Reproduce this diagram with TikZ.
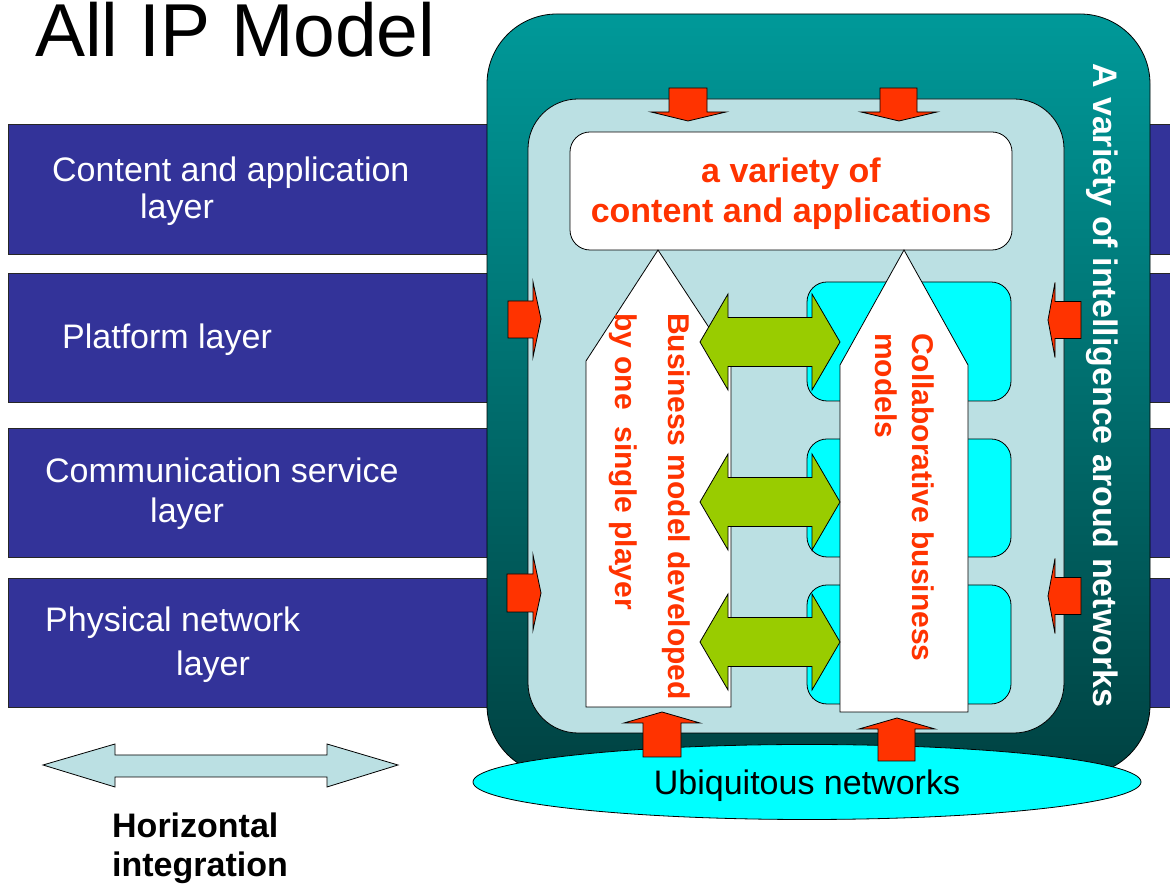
\documentclass[tikz,border=0pt]{standalone}
\usepackage{fontspec}
\setmainfont{Liberation Sans}
\definecolor{layerblue}{RGB}{51,51,153}
\definecolor{tealtop}{RGB}{0,153,153}
\definecolor{tealmid}{RGB}{0,118,118}
\definecolor{tealbot}{RGB}{0,66,66}
\definecolor{paleblue}{RGB}{187,224,227}
\definecolor{boxcyan}{RGB}{0,255,255}
\definecolor{arrowgreen}{RGB}{153,204,0}
\definecolor{arrowred}{RGB}{255,51,0}
\tikzset{
  edge/.style={draw=black, line width=0.8pt},
  layerbar/.style={fill=layerblue, draw=black!85, line width=0.8pt},
  redarrow/.style={edge, fill=arrowred},
  greenarrow/.style={edge, fill=arrowgreen},
  layertext/.style={text=white, inner sep=0pt, anchor=base west,
    font=\fontsize{34}{40}\selectfont},
  redbold/.style={text=arrowred, inner sep=0pt,
    font=\bfseries\fontsize{34}{40}\selectfont},
  redvert/.style={text=arrowred, inner sep=0pt, rotate=-90, anchor=base west,
    font=\bfseries\fontsize{30}{36}\selectfont},
}
\begin{document}
\begin{tikzpicture}[x=1pt,y=1pt]
\useasboundingbox (0,0) rectangle (1170,888);
\clip (0,0) rectangle (1170,888);

% layer bands running behind the central block
\draw[layerbar] (8,634) rectangle (1180,764);
\draw[layerbar] (8,486) rectangle (1180,615);
\draw[layerbar] (8,331) rectangle (1180,460);
\draw[layerbar] (8,181) rectangle (1180,310);

% outer teal block and inner pale block
\shade[top color=tealtop, middle color=tealmid, bottom color=tealbot,
  rounded corners=70pt] (487,113) rectangle (1150,874);
\draw[edge, rounded corners=70pt] (487,113) rectangle (1150,874);
\draw[edge, fill=paleblue, rounded corners=50pt] (528,155) rectangle (1064,789);

% arrows pointing down into the pale block
\draw[redarrow] (669,800) -- (707,800) -- (707,776) -- (726,776) -- (688,767)
  -- (651,776) -- (669,776) -- cycle;
\draw[redarrow] (880,800) -- (917,800) -- (917,776) -- (937,776) -- (899,767)
  -- (861,776) -- (880,776) -- cycle;

% content and applications box
\draw[edge, fill=white, rounded corners=20pt] (570,638) rectangle (1012,756);

% cyan partner boxes
\draw[edge, fill=boxcyan, rounded corners=20pt] (807,487) rectangle (1011,606);
\draw[edge, fill=boxcyan, rounded corners=20pt] (807,331) rectangle (1011,449);
\draw[edge, fill=boxcyan, rounded corners=20pt] (807,184) rectangle (1011,303);

% two upward block arrows
\draw[edge, fill=white] (586,181) -- (586,527) -- (658,638) -- (731,527)
  -- (731,181) -- cycle;
\draw[edge, fill=white] (840,176) -- (840,523) -- (904,638) -- (968,523)
  -- (968,176) -- cycle;

% green double arrows between the two models
\foreach \c in {546,386,246}{
  \draw[greenarrow] (700,\c) -- (728,\c+48) -- (728,\c+24.5) -- (812,\c+24.5)
    -- (812,\c+48) -- (840,\c) -- (812,\c-48) -- (812,\c-24.5)
    -- (728,\c-24.5) -- (728,\c-48) -- cycle;
}

% side arrows from the left
\draw[redarrow] (508,587) -- (533,587) -- (533,606) -- (541,569) -- (533,531)
  -- (533,550) -- (508,550) -- cycle;
\draw[redarrow] (507,314) -- (533,314) -- (533,333) -- (541,295) -- (533,258)
  -- (533,276) -- (507,276) -- cycle;
% side arrows from the right
\draw[redarrow] (1081,586.5) -- (1055,586.5) -- (1055,605.5) -- (1048,568)
  -- (1055,530.5) -- (1055,549.5) -- (1081,549.5) -- cycle;
\draw[redarrow] (1081,310.5) -- (1055,310.5) -- (1055,329.5) -- (1048,292)
  -- (1055,254.5) -- (1055,273.5) -- (1081,273.5) -- cycle;

% ubiquitous networks base
\draw[edge, fill=boxcyan] (807,106) ellipse [x radius=334, y radius=37.5];
\node[inner sep=0pt, anchor=base, font=\fontsize{34}{40}\selectfont]
  (ubi) at (807,93) {Ubiquitous networks};

% arrows rising from the base
\draw[redarrow] (643,131) -- (643,165) -- (624,165) -- (662,176) -- (700,165)
  -- (681,165) -- (681,131) -- cycle;
\draw[redarrow] (878,127) -- (878,159) -- (859,159) -- (897,170) -- (935,159)
  -- (915,159) -- (915,127) -- cycle;

% horizontal integration arrow
\draw[edge, fill=paleblue] (43,123) -- (115,144) -- (115,133) -- (327,133)
  -- (327,144) -- (398,123) -- (327,101) -- (327,111) -- (115,111)
  -- (115,101) -- cycle;

% titles and labels
\node[inner sep=0pt, anchor=base west, font=\fontsize{75}{80}\selectfont]
  (title) at (35,831) {All IP Model};

\node[layertext] (l1a) at (52,706) {Content and application};
\node[layertext] (l1b) at (140,669) {layer};
\node[layertext] (l2a) at (62,539) {Platform layer};
\node[layertext] (l3a) at (45,405) {Communication service};
\node[layertext] (l3b) at (150,365) {layer};
\node[layertext] (l4a) at (45,256) {Physical network};
\node[layertext] (l4b) at (176,212) {layer};

\node[redbold, anchor=base] (cap1) at (791,705) {a variety of};
\node[redbold, anchor=base] (cap2) at (791,665) {content and applications};

\node[redvert] (bm1) at (668,575) {Business model developed};
\node[redvert] (bm2) at (615,575) {by one\ \ single player};
\node[redvert] (cb1) at (912,555) {Collaborative business};
\node[redvert] (cb2) at (875,555) {models};

\node[text=white, inner sep=0pt, rotate=-90, anchor=base west,
  font=\bfseries\fontsize{34}{40}\selectfont]
  (intel) at (1093,825) {A variety of intelligence aroud networks};

\node[inner sep=0pt, anchor=base west, font=\bfseries\fontsize{34}{40}\selectfont]
  (hz1) at (112,50) {Horizontal};
\node[inner sep=0pt, anchor=base west, font=\bfseries\fontsize{34}{40}\selectfont]
  (hz2) at (112,11) {integration};
\end{tikzpicture}
\end{document}
